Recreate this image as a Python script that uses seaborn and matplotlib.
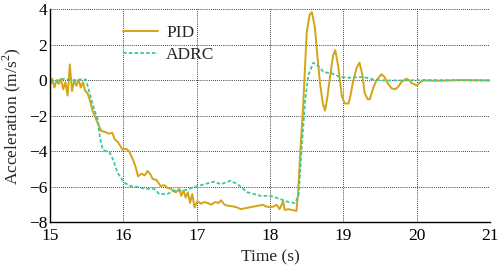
import numpy as np
import pandas as pd
import matplotlib
matplotlib.use('Agg')
import matplotlib.pyplot as plt
import seaborn as sns

# PID response
pid_t = [15.0, 15.03, 15.06, 15.09, 15.12, 15.15, 15.18, 15.21, 15.24, 15.27,
         15.30, 15.33, 15.36, 15.39, 15.42, 15.45, 15.48, 15.51, 15.55, 15.58,
         15.62, 15.65, 15.70, 15.75, 15.80, 15.85, 15.88, 15.93, 15.99, 16.04,
         16.08, 16.13, 16.17, 16.20, 16.25, 16.29, 16.33, 16.37, 16.40, 16.45,
         16.51, 16.56, 16.60, 16.65, 16.69, 16.72, 16.76, 16.79, 16.82, 16.85,
         16.88, 16.91, 16.94, 16.97, 17.01, 17.06, 17.10, 17.15, 17.20, 17.25,
         17.30, 17.33, 17.38, 17.42, 17.50, 17.55, 17.60, 17.66, 17.72, 17.78,
         17.85, 17.90, 17.95, 18.01, 18.05, 18.09, 18.13, 18.18, 18.20, 18.25,
         18.30, 18.36, 18.38, 18.42, 18.45, 18.50, 18.54, 18.57, 18.61, 18.65,
         18.68, 18.72, 18.75, 18.78, 18.82, 18.86, 18.89, 18.93, 18.98, 19.02,
         19.07, 19.10, 19.13, 19.18, 19.22, 19.26, 19.29, 19.33, 19.36, 19.41,
         19.45, 19.52, 19.56, 19.61, 19.66, 19.71, 19.75, 19.79, 19.86, 19.90,
         19.93, 20.0, 20.05, 20.09, 20.3, 20.6, 21.0]
pid_a = [-0.3, 0.1, -0.4, 0.0, -0.2, 0.1, -0.5, -0.1, -0.85, 0.9,
         -0.6, 0.0, -0.3, 0.05, -0.4, -0.1, -0.6, -0.7, -1.2, -1.7,
         -2.1, -2.4, -2.85, -2.9, -3.0, -2.95, -3.3, -3.5, -3.9, -3.85,
         -4.0, -4.45, -4.9, -5.4, -5.25, -5.35, -5.1, -5.3, -5.55, -5.6,
         -5.95, -5.9, -6.05, -6.1, -6.25, -6.3, -6.1, -6.5, -6.2, -6.6,
         -6.3, -6.9, -6.4, -7.15, -6.8, -6.95, -6.85, -6.9, -7.0, -6.85,
         -6.9, -6.75, -7.0, -7.05, -7.1, -7.15, -7.25, -7.2, -7.15, -7.1,
         -7.05, -7.0, -7.1, -7.15, -7.1, -7.0, -7.25, -6.8, -7.3, -7.25,
         -7.3, -7.35, -6.5, -3.5, -1.6, 2.7, 3.7, 3.85, 3.05, 1.2,
         -0.1, -1.3, -1.7, -1.0, 0.25, 1.4, 1.7, 0.8, -0.9, -1.3,
         -1.3, -0.8, -0.1, 0.7, 1.0, 0.3, -0.7, -1.05, -1.07, -0.4,
         0.0, 0.35, 0.2, -0.2, -0.45, -0.5, -0.35, -0.1, 0.1, 0.0,
         -0.15, -0.28, -0.1, 0.0, -0.02, 0.02, 0.0]

# ADRC response
adrc_t = [15.0, 15.1, 15.2, 15.3, 15.4, 15.49, 15.54, 15.6, 15.65, 15.68,
          15.72, 15.77, 15.81, 15.86, 15.92, 16.01, 16.1, 16.2, 16.29, 16.42,
          16.49, 16.6, 16.69, 16.83, 16.97, 17.1, 17.24, 17.33, 17.46, 17.56,
          17.69, 17.87, 18.01, 18.15, 18.25, 18.34, 18.39, 18.43, 18.48, 18.52,
          18.59, 18.66, 18.73, 18.84, 18.95, 19.09, 19.27, 19.41, 19.54, 19.81,
          20.09, 21.0]
adrc_a = [-0.1, 0.0, 0.1, 0.0, 0.05, 0.05, -0.7, -1.6, -2.2, -3.2,
          -3.9, -4.0, -4.05, -4.45, -5.2, -5.75, -5.95, -6.0, -6.1, -6.1,
          -6.4, -6.4, -6.2, -6.2, -6.0, -5.85, -5.7, -5.85, -5.65, -5.85,
          -6.3, -6.5, -6.5, -6.7, -6.85, -6.9, -6.5, -3.9, -1.07, 0.25,
          1.0, 0.8, 0.47, 0.4, 0.2, 0.15, 0.2, 0.05, 0.0, 0.0,
          0.02, 0.0]

sns.set_style('white')
plt.rcParams['font.family'] = ['Liberation Serif', 'DejaVu Serif']
plt.rcParams['mathtext.fontset'] = 'custom'
plt.rcParams['mathtext.rm'] = 'Liberation Serif'
fs = 12.5

fig = plt.figure(figsize=(4.98, 2.69), dpi=100)
ax = fig.add_axes([0.1004, 0.173, 0.8836, 0.792])

sns.lineplot(x=pid_t, y=pid_a, ax=ax, color='#D4A414', lw=1.4, sort=False,
             label='PID')
sns.lineplot(x=adrc_t, y=adrc_a, ax=ax, color='#3CC89C', lw=1.3, sort=False,
             linestyle=(0, (2, 1.2)), label='ADRC')

ax.set_xlim(15, 21)
ax.set_ylim(-8, 4)
ax.set_xticks(range(15, 22))
ax.set_yticks(range(-8, 5, 2))
ax.grid(True, color='black', linestyle=(0, (1, 1.5)), linewidth=0.6)
ax.tick_params(direction='in', length=3, width=0.8, colors='black',
               labelsize=fs)
ax.tick_params(axis='x', pad=4)
ax.tick_params(axis='y', pad=2)
for s in ['top', 'right']:
    ax.spines[s].set_visible(False)
for s in ['left', 'bottom']:
    ax.spines[s].set_color('black')
    ax.spines[s].set_linewidth(1.0)

ax.set_xlabel('Time (s)', fontsize=fs, labelpad=4)
ax.set_ylabel(r'Acceleration (m/s$^{2}$)', fontsize=fs, labelpad=4)

ax.legend(loc='upper left', bbox_to_anchor=(0.13, 1.0), frameon=False,
          fontsize=fs, handlelength=2.0, handletextpad=0.5, labelspacing=0.35)

fig.savefig('out.png', dpi=100)
